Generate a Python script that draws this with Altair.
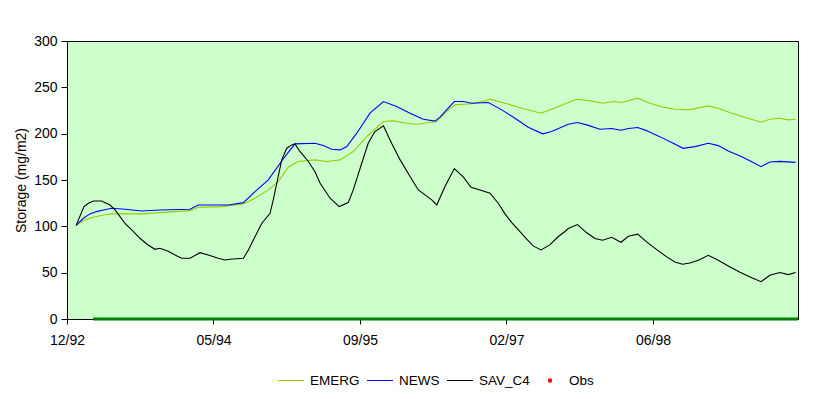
import altair as alt
import pandas as pd

# ---- axis ticks (days since 28 Dec 1992, 500-day major unit) ----
tick_days = [0, 500, 1000, 1500, 2000]
tick_labels = ["12/92", "05/94", "09/95", "02/97", "06/98"]
x_end_day = 2495
y_ticks = [0, 50, 100, 150, 200, 250, 300]

# ---- series (day offset, storage mg/m2) ----
emerg_days = [31, 56, 90, 124, 158, 255, 317, 420, 448, 528, 602, 642, 687, 721, 755, 789, 846, 886, 932, 977,
              1023, 1080, 1114, 1159, 1194, 1262, 1290, 1324, 1381, 1410, 1444, 1495, 1552, 1618, 1654, 1700,
              1740, 1785, 1830, 1865, 1893, 1948, 1990, 2035, 2075, 2121, 2189, 2223, 2269, 2325, 2369, 2399,
              2433, 2462, 2487]
emerg_vals = [101, 106.2, 109.8, 112.3, 113.4, 113.4, 114.8, 116.9, 120.5, 121.3, 124.2, 130.3, 139.3, 148.3,
              163.8, 169.9, 171.7, 169.9, 171.7, 180.7, 196.9, 213.1, 213.8, 211.2, 210.2, 213.1, 222.1, 231.1,
              232.2, 234, 237.2, 232.9, 227.5, 222.1, 226.4, 232.2, 237.2, 235.4, 232.9, 234.7, 233.6, 238.3,
              232.9, 228.6, 226.4, 225.7, 230, 227.5, 222.1, 216.7, 212.3, 215.6, 216.7, 214.9, 215.6]

news_days = [31, 56, 78, 101, 124, 153, 198, 255, 317, 420, 448, 551, 602, 642, 687, 744, 778, 846, 875, 903,
             932, 955, 989, 1034, 1080, 1125, 1171, 1216, 1256, 1273, 1290, 1322, 1353, 1381, 1438, 1484, 1529,
             1574, 1624, 1654, 1711, 1742, 1774, 1819, 1859, 1891, 1916, 1948, 1978, 2023, 2069, 2103, 2143,
             2189, 2223, 2257, 2303, 2337, 2369, 2399, 2433, 2487]
news_vals = [101, 108.7, 113.4, 115.9, 117.7, 119.5, 118.4, 116.6, 117.7, 118.4, 123.1, 123.1, 125.6, 137.5,
             150.1, 175.3, 189, 189.7, 187.2, 183.2, 182.5, 186.1, 200.5, 222.1, 234.7, 229.3, 222.1, 215.6,
             213.5, 217.8, 223.9, 234.7, 234.7, 232.9, 233.6, 225.7, 216.7, 207, 199.8, 202.3, 210.2, 212,
             209.5, 204.8, 205.5, 203.7, 205.5, 206.6, 203.3, 196.8, 189.6, 184.2, 186, 189.6, 187.1, 181.3,
             175.2, 169.8, 164.4, 169.4, 170.1, 169]

sav_days = [31, 58, 73, 90, 118, 147, 164, 181, 198, 221, 249, 272, 300, 317, 346, 369, 391, 420, 454, 482,
            516, 539, 556, 602, 619, 642, 665, 693, 704, 716, 733, 750, 767, 778, 795, 824, 846, 864, 898, 929,
            960, 977, 1006, 1028, 1051, 1080, 1108, 1137, 1171, 1199, 1222, 1245, 1262, 1290, 1322, 1353, 1379,
            1410, 1444, 1472, 1495, 1518, 1546, 1569, 1591, 1618, 1648, 1677, 1700, 1711, 1742, 1774, 1802,
            1828, 1859, 1891, 1916, 1948, 1978, 2013, 2047, 2075, 2101, 2126, 2155, 2189, 2223, 2257, 2297,
            2337, 2369, 2399, 2433, 2462, 2487]
sav_vals = [101, 121.3, 124.9, 127.4, 127.4, 123, 117.7, 110.5, 103.3, 96.1, 87.1, 81, 75.2, 76.3, 73.1, 69.1,
            65.5, 65.5, 71.6, 69.1, 65.5, 63.7, 64.4, 65.5, 74.5, 88.9, 103.3, 114.1, 128.5, 146.5, 171.7,
            184.3, 187.9, 189, 180.8, 170, 159.2, 146.5, 130.3, 121.3, 125.6, 139.3, 168.1, 189.7, 202.3,
            208.4, 189.7, 171.7, 153.7, 139.3, 133.9, 128.5, 123.1, 142.9, 162.3, 153, 142.2, 139.3, 135.7,
            124.9, 113.4, 104.1, 94.4, 86.1, 78.9, 74.6, 80, 89, 94.4, 97.6, 101.9, 93, 86.8, 85, 88.2, 82.8,
            89.3, 91.5, 83.2, 74.9, 67, 61.6, 59.1, 60.5, 63.4, 68.8, 63.4, 57.3, 50.4, 44.6, 40.3, 47.2,
            50.1, 47.9, 50.1]

obs_days = [89, 2495]
obs_vals = [0, 0]

series_names = ["EMERG", "NEWS", "SAV_C4", "Obs"]
series_colors = ["#99CC00", "#0000FF", "#000000", "#FF0000"]

rows = []
for name, days, vals in [("EMERG", emerg_days, emerg_vals),
                         ("NEWS", news_days, news_vals),
                         ("SAV_C4", sav_days, sav_vals)]:
    assert len(days) == len(vals), name
    for d, v in zip(days, vals):
        rows.append({"series": name, "day": d, "value": v})
df = pd.DataFrame(rows)
obs_df = pd.DataFrame({"day": obs_days, "value": obs_vals})

FONT = "Liberation Sans, Arial, sans-serif"

days_js = "[" + ",".join(str(d) for d in tick_days) + "]"
labels_js = "[" + ",".join(f"'{l}'" for l in tick_labels) + "]"
names_js = "[" + ",".join(f"'{n}'" for n in series_names) + "]"
colors_js = "[" + ",".join(f"'{c}'" for c in series_colors) + "]"

xenc = alt.X("day:Q",
             scale=alt.Scale(domain=[0, x_end_day], nice=False, zero=False),
             axis=alt.Axis(values=tick_days, labelExpr=f"{labels_js}[indexof({days_js}, datum.value)]",
                           title=None, grid=False, tickSize=5, labelPadding=9,
                           labelFlush=False, labelOverlap=False))
yenc = alt.Y("value:Q",
             scale=alt.Scale(domain=[0, 300], nice=False),
             axis=alt.Axis(values=y_ticks, title="Storage (mg/m2)", grid=False, tickSize=6,
                           labelPadding=4, titlePadding=5))

lines = alt.Chart(df).mark_line(strokeWidth=1.1).encode(
    x=xenc,
    y=yenc,
    color=alt.Color("series:N",
                    scale=alt.Scale(domain=series_names, range=series_colors),
                    sort=series_names,
                    legend=alt.Legend(
                        orient="none", legendX=210, legendY=326,
                        direction="horizontal", columns=4, title=None, padding=0,
                        symbolType={"expr": "datum.value == 'Obs' ? 'circle' : 'stroke'"},
                        symbolSize={"expr": "datum.value == 'Obs' ? 10 : 676"},
                        symbolStrokeColor={"expr": f"{colors_js}[indexof({names_js}, datum.value)]"},
                        symbolFillColor={"expr": "datum.value == 'Obs' ? '#FF0000' : 'transparent'"},
                        symbolStrokeWidth=1.2, clipHeight=27,
                        labelFont=FONT, labelFontSize=13.5, labelColor="#000000",
                        labelOffset=5, columnPadding=6)),
)

obs = alt.Chart(obs_df).mark_line(color="#008000", strokeWidth=3).encode(x=xenc, y=yenc)

chart = alt.layer(obs, lines).properties(
    width=731, height=278,
    padding={"left": 59, "top": 33, "right": 26, "bottom": 72},
    autosize=alt.AutoSizeParams(type="none"),
    background="#FFFFFF",
).configure_view(
    fill="#CCFFCC", stroke="#000000", strokeWidth=1
).configure_axis(
    domainColor="#000000", tickColor="#000000", labelColor="#000000", titleColor="#000000",
    labelFont=FONT, titleFont=FONT, labelFontSize=14, titleFontSize=14, titleFontWeight="normal",
    domainWidth=1, tickWidth=1
)

chart.save("out.html", embed_options={"renderer": "svg", "actions": False})
